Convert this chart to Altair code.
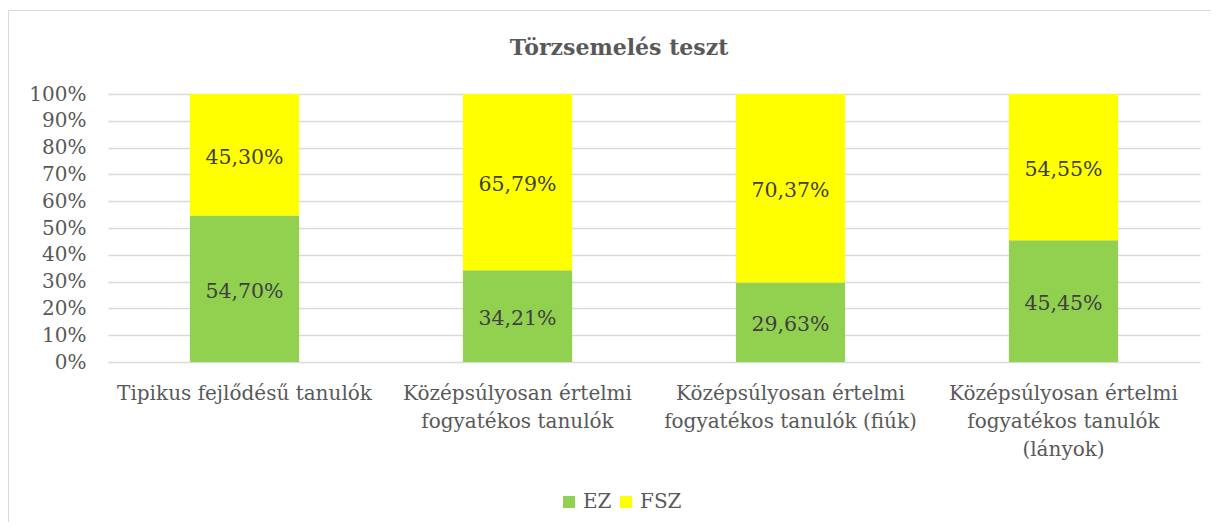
import altair as alt
import pandas as pd

categories = [
    "Tipikus fejlődésű tanulók",
    "Középsúlyosan értelmi\nfogyatékos tanulók",
    "Középsúlyosan értelmi\nfogyatékos tanulók (fiúk)",
    "Középsúlyosan értelmi\nfogyatékos tanulók\n(lányok)",
]
series = ["EZ", "FSZ"]
ez_values = [0.5470, 0.3421, 0.2963, 0.4545]
fsz_values = [0.4530, 0.6579, 0.7037, 0.5455]
series_colors = ["#92D050", "#FFFF00"]
y_ticks = [0, 0.1, 0.2, 0.3, 0.4, 0.5, 0.6, 0.7, 0.8, 0.9, 1.0]
title_text = "Törzsemelés teszt"

rows = []
for c, v in zip(categories, ez_values):
    rows.append({"cat": c, "series": "EZ", "value": v, "order": 0})
for c, v in zip(categories, fsz_values):
    rows.append({"cat": c, "series": "FSZ", "value": v, "order": 1})
df = pd.DataFrame(rows)

FONT = "DejaVu Serif"
TXT = "#595959"
FS = 20

base = alt.Chart(df).transform_stack(
    stack="value", groupby=["cat"], as_=["y0", "y1"], sort=[alt.SortField("order")]
).transform_calculate(mid="(datum.y0 + datum.y1) / 2")

x_axis = alt.Axis(
    labelAngle=0,
    labelExpr="split(datum.label, '\\n')",
    labelFont=FONT,
    labelFontSize=FS,
    labelColor=TXT,
    labelLineHeight=28,
    labelPadding=21,
    labelLimit=400,
    domain=False,
    ticks=False,
)
y_axis = alt.Axis(
    values=y_ticks,
    format=".0%",
    labelFont=FONT,
    labelFontSize=FS,
    labelColor=TXT,
    labelPadding=22,
    labelOverlap=False,
    labelFlush=False,
    domain=False,
    ticks=False,
    grid=True,
    gridColor="#D9D9D9",
    gridWidth=1.3,
)
x_scale = alt.Scale(paddingInner=0.6, paddingOuter=0.3)
y_scale = alt.Scale(domain=[0, 1], nice=False)

bars = base.mark_bar().encode(
    x=alt.X("cat:N", sort=categories, title=None, scale=x_scale, axis=x_axis),
    y=alt.Y("y0:Q", title=None, scale=y_scale, axis=y_axis),
    y2="y1:Q",
    color=alt.Color(
        "series:N",
        sort=series,
        scale=alt.Scale(domain=series, range=series_colors),
        legend=alt.Legend(
            title=None,
            orient="none",
            direction="horizontal",
            legendX=451,
            legendY=398,
            symbolType="square",
            symbolSize=144,
            symbolStrokeWidth=0,
            labelFont=FONT,
            labelFontSize=FS,
            labelColor=TXT,
            columnPadding=4,
            labelOffset=4,
        ),
    ),
)

labels = base.mark_text(font=FONT, fontSize=20.5, color="#404040", dy=3).encode(
    x=alt.X("cat:N", sort=categories, title=None, scale=x_scale, axis=x_axis),
    y=alt.Y("mid:Q", title=None, scale=y_scale, axis=y_axis),
    text=alt.Text("value:Q", format=".2%"),
)

title = alt.Chart(pd.DataFrame({"t": [title_text]})).mark_text(
    font=FONT, fontSize=22, fontWeight="bold", color=TXT, baseline="alphabetic"
).encode(text="t:N", x=alt.value(511), y=alt.value(-39))

border = alt.Chart(pd.DataFrame({"a": [0]})).mark_rect(
    filled=False, stroke="#D9D9D9", strokeWidth=1
).encode(
    x=alt.value(-99.5), x2=alt.value(1300), y=alt.value(-83.5), y2=alt.value(600)
)

chart = alt.layer(border, bars, labels, title).properties(
    width=1092,
    height=268,
    padding={"left": 100, "top": 86, "right": 11, "bottom": 160},
    autosize=alt.AutoSizeParams(type="none"),
).configure(
    locale={
        "number": {
            "decimal": ",",
            "thousands": " ",
            "grouping": [3],
            "currency": ["", " Ft"],
        }
    }
).configure_view(stroke=None)

chart.save("out.html", embed_options={"renderer": "svg", "actions": False})
